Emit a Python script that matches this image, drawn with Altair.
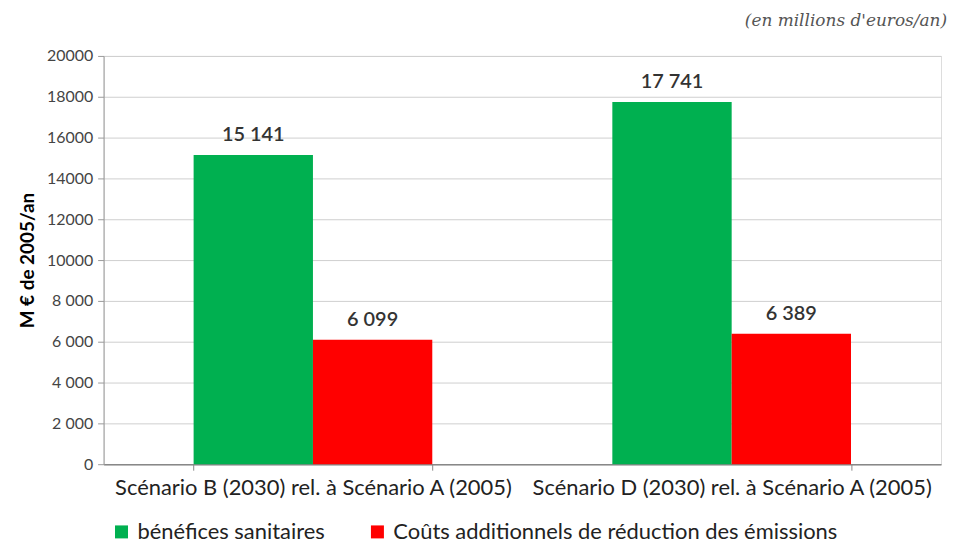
import altair as alt
import pandas as pd

scenarios = ["Scénario B (2030) rel. à Scénario A (2005)",
             "Scénario D (2030) rel. à Scénario A (2005)"]
series = ["bénéfices sanitaires", "Coûts additionnels de réduction des émissions"]
benefices = [15141, 17741]
couts = [6099, 6389]
labels_benefices = ["15 141", "17 741"]
labels_couts = ["6 099", "6 389"]
y_ticks = [0, 2000, 4000, 6000, 8000, 10000, 12000, 14000, 16000, 18000, 20000]
colors = ["#00B050", "#FF0000"]

rows = []
for i, s in enumerate(scenarios):
    rows.append({"scenario": s, "serie": series[0], "value": benefices[i], "label": labels_benefices[i]})
    rows.append({"scenario": s, "serie": series[1], "value": couts[i], "label": labels_couts[i]})
df = pd.DataFrame(rows)

FONT = "Lato"

base = alt.Chart(df).encode(
    x=alt.X("scenario:N", sort=scenarios, title=None,
            scale=alt.Scale(paddingInner=0.43, paddingOuter=0.215),
            axis=alt.Axis(labelAngle=0, labelFont=FONT, labelFontSize=22, labelColor="#222",
                          labelLimit=0,
                          domainColor="#888", domainWidth=1.5, tickColor="#888", tickSize=6,
                          tickBand="extent", labelPadding=7, grid=False)),
    xOffset=alt.XOffset("serie:N", sort=series,
                        scale=alt.Scale(paddingInner=0, paddingOuter=0)),
    y=alt.Y("value:Q", title="M € de 2005/an",
            scale=alt.Scale(domain=[0, 20000], nice=False),
            axis=alt.Axis(values=y_ticks,
                          labelExpr="datum.value >= 10000 ? format(datum.value, 'd') : replace(format(datum.value, ','), ',', ' ')",
                          labelFont=FONT, labelFontSize=16, labelColor="#444",
                          titleFont=FONT, titleFontSize=19, titleFontWeight="bold", titleColor="#000",
                          titlePadding=9,
                          domainColor="#999", tickColor="#999", tickSize=6, labelPadding=5,
                          gridColor="#cfcfcf", grid=True)),
)

bars = base.mark_bar().encode(
    color=alt.Color("serie:N", sort=series,
                    scale=alt.Scale(domain=series, range=colors),
                    legend=alt.Legend(title=None, orient="none", direction="horizontal",
                                      legendX=7, legendY=467,
                                      symbolType="square", symbolSize=170, symbolStrokeWidth=0,
                                      labelFont=FONT, labelFontSize=22, labelColor="#222",
                                      labelLimit=0, labelOffset=5,
                                      columnPadding=41, symbolOffset=0))
)

text = base.mark_text(dy=-20, font=FONT, fontSize=20, fontWeight=600, color="#333").encode(
    text="label:N"
)

chart = (bars + text).properties(
    width=841, height=410,
    title=alt.TitleParams("(en millions d'euros/an)", anchor="end", font="DejaVu Serif",
                          fontStyle="italic", fontSize=17, fontWeight="normal",
                          color="#555", offset=18, dx=6),
).configure_view(stroke=None).configure(padding={"left": 10, "top": 3, "right": 0, "bottom": 0})

chart.save("out.html", embed_options={"renderer": "svg", "actions": False})
